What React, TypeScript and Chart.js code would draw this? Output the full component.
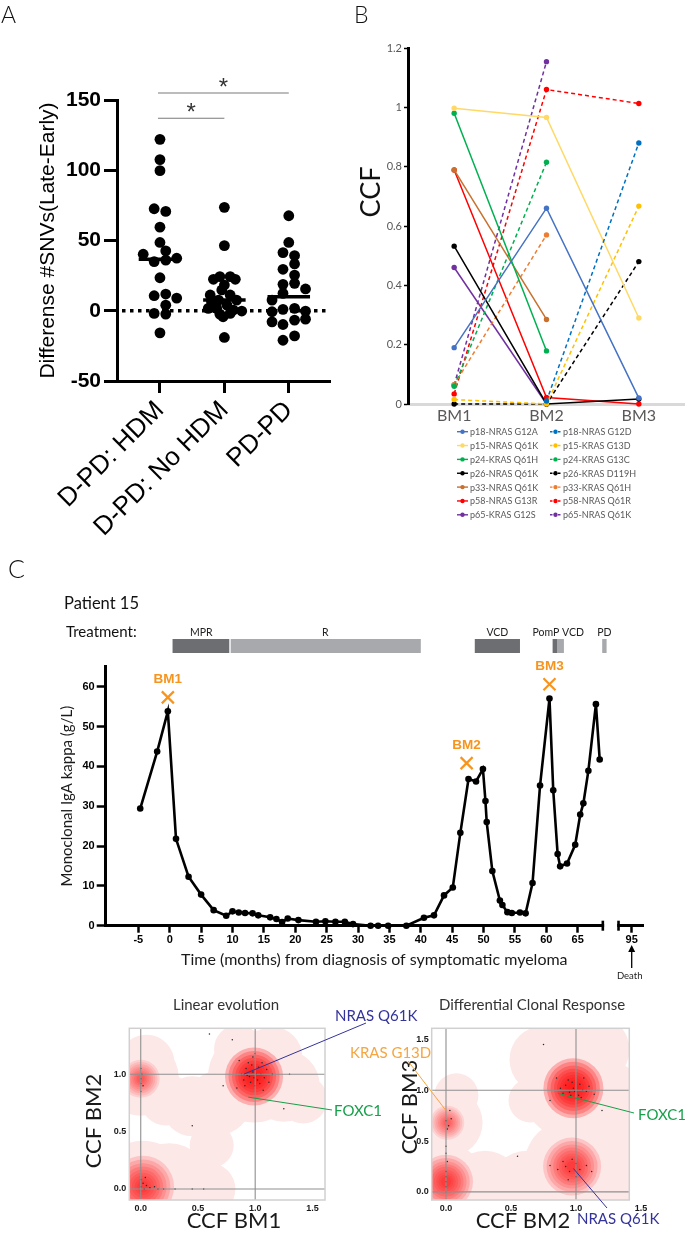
import React, { useEffect, useRef } from "react";
import { Chart, registerables } from "chart.js";
Chart.register(...registerables);

const ARIAL = "'Liberation Sans', Arial, Helvetica, sans-serif";
const HUMAN = "Lato, 'Open Sans', 'Noto Sans', sans-serif";

// ================= Panel A data =================
const groupLabels = ["D-PD: HDM", "D-PD: No HDM", "PD-PD"];
const hdmValues = [122, 107.6, 99.7, 72.6, 70.7, 59.5, 48.6, 42.6, 40.2, 37.4, 36, 35, 23.5, 11.9, 10.7, 9, 4, -1.9, -2.4, -15.7];
const hdmJitter = [0, 0, 0, -0.09, 0.09, 0, 0, 0.09, -0.26, 0.26, 0.09, -0.09, 0, 0.09, -0.09, 0.26, 0.09, -0.09, 0.09, 0];
const noHdmValues = [73.6, 46.4, 24.3, 24.3, 22.4, 22.4, 18.3, 14.8, 11.2, 11.2, 7.6, 7.6, 6.4, 4, 1.7, 1.7, 0.5, -0.2, -1.9, -2.4, -4.3, -19];
const noHdmJitter = [0, 0, -0.07, 0.09, -0.17, 0.17, 0, -0.04, -0.22, 0.09, -0.09, 0.19, -0.2, 0.04, -0.25, -0.12, 0.14, 0.27, 0.09, -0.07, -0.02, 0];
const pdValues = [67.6, 48.6, 41.4, 39.3, 33.3, 29.5, 25.4, 19.5, 18.8, 15.5, 12.4, 7.6, 1.7, 1, -0.3, -0.7, -6, -6.7, -7.9, -9.8, -17.9, -21];
const pdJitter = [0, 0, -0.09, 0.09, 0.09, -0.09, 0.09, 0.09, -0.09, 0.26, -0.09, -0.26, 0.09, -0.09, 0.26, -0.26, 0.26, 0.09, -0.26, -0.09, 0.09, -0.09];
const aYTicks = [-50, 0, 50, 100, 150];
const sigPairs = [[1, 3], [1, 2]];
const sigLevels = [155, 137];
const sigMarks = ["*", "*"];

// ================= Panel B data =================
const bmLabels = ["BM1", "BM2", "BM3"];
const ccfNames = ["p18-NRAS G12A", "p18-NRAS G12D", "p15-NRAS Q61K", "p15-KRAS G13D", "p24-KRAS Q61H", "p24-KRAS G13C", "p26-NRAS Q61K", "p26-KRAS D119H", "p33-NRAS Q61K", "p33-KRAS Q61H", "p58-NRAS G13R", "p58-NRAS Q61R", "p65-KRAS G12S", "p65-NRAS Q61K"];
const ccfBM1 = [0.19, null, 0.997, 0.015, 0.98, 0.06, 0.532, 0.0, 0.789, 0.065, 0.789, 0.034, 0.46, 0.064];
const ccfBM2 = [0.66, 0.01, 0.966, 0.0, 0.179, 0.815, 0.0, 0.0, 0.285, 0.57, 0.022, 1.06, 0.0, 1.154];
const ccfBM3 = [0.02, 0.88, 0.29, 0.667, null, null, 0.017, 0.48, null, null, 0.0, 1.013, null, null];
const ccfColors = ["#4472C4", "#0070C0", "#FFD966", "#FFC000", "#00B050", "#00B050", "#000000", "#000000", "#C8702E", "#ED7D31", "#FF0000", "#FF0000", "#7030A0", "#7030A0"];
const ccfDashed = [false, true, false, true, false, true, false, true, false, true, false, true, false, true];

// ================= Panel C data =================
const months = [-4.7, -2, -0.3, 1, 3, 5, 7, 9, 10, 11, 12, 13.2, 14.1, 16, 17, 17.9, 18.8, 20.5, 23.3, 24.8, 26.4, 27.9, 29.2, 32, 33.2, 34.8, 37.7, 40.5, 42.1, 43.7, 45.1, 46.3, 47.6, 48.8, 49.9, 50.3, 50.5, 51.4, 52.6, 53, 53.8, 54.5, 55.8, 56.7, 57.8, 59, 60.5, 61.1, 61.8, 62.2, 63.3, 64.6, 65.4, 65.9, 66.7, 67.9, 68.5];
const igaKappa = [29.4, 43.7, 53.8, 21.8, 12.3, 7.8, 3.9, 2.5, 3.6, 3.3, 3.2, 3.1, 2.6, 2.1, 1.7, 0.9, 1.8, 1.4, 1.0, 1.1, 1.0, 1.0, 0.4, 0, 0, 0, 0, 2.0, 2.6, 7.6, 9.6, 23.3, 36.8, 36.2, 39.3, 31.3, 26, 13.7, 6.3, 5.2, 3.4, 3.2, 3.3, 3.1, 10.7, 35.2, 57, 34, 18, 14.9, 15.6, 20.3, 27.9, 30.7, 38.9, 55.6, 41.7];
const bmSampleNames = ["BM1", "BM2", "BM3"];
const bmSampleMonth = [-0.3, 47.3, 60.5];
const bmMarkerLevel = [57.3, 40.8, 60.6];
const treatmentNames = ["MPR", "R", "VCD", "PomP", "VCD", "PD"];
const treatmentStart = [0.45, 9.6, 48.6, 61.0, 61.7, 68.9];
const treatmentEnd = [9.6, 40.0, 55.8, 61.7, 62.8, 69.6];
const treatmentDark = [true, false, true, true, false, false];
const treatmentLabelText = ["MPR", "R", "VCD", "PomP VCD", "PD"];
const treatmentLabelBars = [[0], [1], [2], [3, 4], [5]];
const xTickMonths = [-5, 0, 5, 10, 15, 20, 25, 30, 35, 40, 45, 50, 55, 60, 65, 95];
const yTickIga = [0, 10, 20, 30, 40, 50, 60];
const deathMonth = 95;
const axisGap = [69, 71.5];
const shownMonth = (m: number) => (m > 80 ? 73.6 + (m - 95) : m);

// ================= Density panels data =================
const densTicks = [0, 0.5, 1, 1.5];
// Linear evolution (BM1 vs BM2)
const leEnvX = [0.02, 0.25, 0.45, 0.6, 0.0, 0.05, 0.22, 0.45, 0.68, 0.99, 1.25, 1.42, 1.15, 0.62, 0.85];
const leEnvY = [0.02, 0.05, 0.02, 0.0, 0.97, 1.1, 0.78, 0.72, 0.75, 0.98, 0.9, 0.78, 1.15, 0.38, 1.22];
const leEnvR = [46, 40, 36, 26, 38, 28, 26, 30, 32, 46, 36, 24, 30, 22, 24];
const leClX = [0.99, 0.02, 0.0];
const leClY = [0.98, 0.02, 0.96];
const leClR = [29, 31, 19];
const leClA = [0.27, 0.16, 0.11];
const leDots = [[0.92, 1.05], [0.95, 0.98], [0.98, 1.02], [1.02, 0.95], [1.05, 1.0], [0.9, 0.95], [0.97, 1.08], [1.0, 0.9], [1.08, 0.97], [0.94, 1.1], [1.03, 1.06], [0.88, 1.0], [1.1, 1.04], [0.99, 0.97], [1.01, 1.0], [0.96, 0.93], [1.04, 0.92], [0.93, 0.99], [1.06, 1.1], [0.86, 1.12], [1.12, 0.93], [0.98, 1.15], [1.0, 1.18], [0.84, 0.88], [1.15, 1.0], [0.91, 0.9], [1.07, 0.86], [0.0, 0.02], [0.02, 0.05], [0.03, 0.0], [0.05, 0.03], [0.0, 0.08], [0.08, 0.01], [0.12, 0.02], [0.15, 0.0], [0.2, 0.0], [0.04, 0.1], [0.3, 0.0], [0.45, 0.0], [0.55, 0.0], [0.0, 0.92], [0.0, 0.96], [0.01, 1.0], [0.0, 1.05], [0.0, 0.85], [0.02, 0.9], [0.45, 0.55], [0.72, 0.9], [1.3, 1.0], [0.8, 1.3], [1.25, 0.7], [0.6, 1.35]];
// Differential clonal response (BM2 vs BM3)
const dcEnvX = [0.0, 0.3, 0.62, 0.97, 1.25, 1.25, 0.02, 0.08, 0.98, 0.75, 1.15, 1.25, 0.88, 0.65];
const dcEnvY = [0.08, 0.05, 0.05, 0.25, 0.15, 0.55, 0.68, 0.95, 1.02, 1.3, 1.4, 1.0, 1.5, 0.9];
const dcEnvR = [40, 36, 36, 48, 32, 30, 34, 22, 52, 34, 34, 30, 30, 22];
const dcClX = [0.98, 0.97, 0.0, 0.01];
const dcClY = [1.02, 0.25, 0.1, 0.68];
const dcClR = [30, 29, 27, 17];
const dcClA = [0.27, 0.16, 0.16, 0.1];
const dcDots = [[0.92, 1.05], [0.95, 0.98], [0.98, 1.02], [1.02, 0.95], [1.05, 1.0], [0.9, 0.97], [0.97, 1.08], [1.0, 0.92], [1.08, 0.99], [0.94, 1.1], [1.03, 1.06], [0.88, 1.02], [1.1, 1.04], [0.99, 0.99], [0.96, 0.95], [1.04, 0.93], [1.06, 1.12], [0.85, 1.12], [1.14, 0.96], [0.8, 0.9], [0.92, 0.25], [0.95, 0.2], [1.0, 0.28], [1.03, 0.22], [0.9, 0.3], [0.97, 0.32], [1.08, 0.26], [0.86, 0.22], [1.0, 0.15], [0.94, 0.12], [1.12, 0.2], [0.8, 0.26], [0.0, 0.0], [0.0, 0.05], [0.0, 0.1], [0.0, 0.15], [0.0, 0.2], [0.01, 0.3], [0.0, 0.38], [0.0, 0.45], [0.02, 0.65], [0.0, 0.7], [0.04, 0.72], [0.01, 0.62], [0.03, 0.8], [0.55, 0.35], [1.2, 0.8], [0.75, 1.45]];

// ================= helpers =================
const fixW = (w: number) => (s: any) => { s.width = w; s.paddingTop = 0; s.paddingBottom = 0; s.paddingLeft = 0; s.paddingRight = 0; };
const fixH = (h: number) => (s: any) => { s.height = h; s.paddingLeft = 0; s.paddingRight = 0; s.paddingTop = 0; s.paddingBottom = 0; };
const baseOpts = (padding: any) => ({
  responsive: false,
  maintainAspectRatio: false,
  animation: false,
  events: [],
  devicePixelRatio: 1,
  layout: { padding, autoPadding: false },
  plugins: { legend: { display: false }, tooltip: { enabled: false }, title: { display: false } },
});
const setTicks = (vals: number[]) => (s: any) => { s.ticks = vals.map((v) => ({ value: v })); };
const median = (vals: number[]) => {
  const s = [...vals].sort((a, b) => a - b);
  const n = s.length;
  return n % 2 ? s[(n - 1) / 2] : (s[n / 2 - 1] + s[n / 2]) / 2;
};
function txt(ctx: any, text: string, x: number, y: number, font: string, color: string, align = "left", base = "middle", rot = 0) {
  ctx.save();
  ctx.translate(x, y);
  if (rot) ctx.rotate(rot);
  ctx.font = font;
  ctx.fillStyle = color;
  ctx.textAlign = align;
  ctx.textBaseline = base;
  ctx.fillText(text, 0, 0);
  ctx.restore();
}
function line(ctx: any, x1: number, y1: number, x2: number, y2: number, color: string, w: number) {
  ctx.save();
  ctx.strokeStyle = color;
  ctx.lineWidth = w;
  ctx.beginPath();
  ctx.moveTo(x1, y1);
  ctx.lineTo(x2, y2);
  ctx.stroke();
  ctx.restore();
}

// ================= Panel A config =================
const A_W = 345, A_H = 570;
function configA() {
  const groups = [[hdmValues, hdmJitter], [noHdmValues, noHdmJitter], [pdValues, pdJitter]];
  const datasets: any[] = [];
  groups.forEach(([vals, jit], gi) => {
    datasets.push({
      data: (vals as number[]).map((v, i) => ({ x: gi + 1 + (jit as number[])[i], y: v })),
      pointRadius: 5.4, pointBackgroundColor: "#000", pointBorderWidth: 0, showLine: false, clip: false,
    });
    const m = median(vals as number[]);
    datasets.push({
      data: [{ x: gi + 1 - 0.33, y: m }, { x: gi + 1 + 0.33, y: m }],
      showLine: true, borderColor: "#000", borderWidth: 3.5, pointRadius: 0,
    });
  });
  const plugin = {
    id: "panelA",
    beforeDatasetsDraw(chart: any) {
      const { ctx, chartArea, scales } = chart;
      const py = scales.y.getPixelForValue(0);
      ctx.save();
      ctx.strokeStyle = "#000";
      ctx.lineWidth = 3.5;
      ctx.setLineDash([3.5, 4.5]);
      ctx.beginPath();
      ctx.moveTo(chartArea.left + 5, py);
      ctx.lineTo(chartArea.right, py);
      ctx.stroke();
      ctx.restore();
    },
    afterDraw(chart: any) {
      const { ctx, scales } = chart;
      sigPairs.forEach(([a, b], i) => {
        const x1 = scales.x.getPixelForValue(a) - 2, x2 = scales.x.getPixelForValue(b);
        const yy = scales.y.getPixelForValue(sigLevels[i]);
        line(ctx, x1, yy, x2, yy, "#7a7a7a", 1.2);
        txt(ctx, sigMarks[i], (x1 + x2) / 2, yy + 2, `24px ${ARIAL}`, "#333", "center", "alphabetic");
      });
      txt(ctx, "A", 1, 23, `300 23px ${HUMAN}`, "#111", "left", "alphabetic");
    },
  };
  return {
    type: "scatter",
    data: { datasets },
    plugins: [plugin],
    options: {
      ...baseOpts({ top: 100, right: 15, left: 0, bottom: 0 }),
      scales: {
        x: {
          type: "linear", min: 0.333, max: 3.64,
          afterBuildTicks: setTicks([1, 2, 3]),
          afterFit: fixH(A_H - 381),
          ticks: { callback: (v: number) => groupLabels[Math.round(v) - 1], minRotation: 45, maxRotation: 45, autoSkip: false, font: { family: ARIAL, size: 26 }, color: "#000", padding: 2 },
          grid: { drawOnChartArea: false, drawTicks: true, tickLength: 12, tickWidth: 3, tickColor: "#000" },
          border: { color: "#000", width: 3 },
        },
        y: {
          type: "linear", min: -50, max: 150,
          afterBuildTicks: setTicks(aYTicks),
          afterFit: fixW(117),
          ticks: { font: { family: ARIAL, size: 21, weight: "bold" }, color: "#000", padding: 3 },
          grid: { drawOnChartArea: false, tickLength: 13, tickWidth: 3, tickColor: "#000" },
          border: { color: "#000", width: 3 },
          title: { display: true, text: "Differense #SNVs(Late-Early)", font: { family: ARIAL, size: 21 }, color: "#000", padding: { top: 35.4, bottom: 0 } },
        },
      },
    },
  };
}

// ================= Panel B config =================
const B_W = 335, B_H = 540;
function configB() {
  const datasets = ccfNames.map((name, i) => ({
    label: name,
    data: [ccfBM1[i], ccfBM2[i], ccfBM3[i]],
    borderColor: ccfColors[i], backgroundColor: ccfColors[i],
    pointBackgroundColor: ccfColors[i], pointBorderWidth: 0, pointRadius: 2.7,
    borderWidth: 1.5, borderDash: ccfDashed[i] ? [4, 3] : [],
    tension: 0, spanGaps: false, clip: false,
  }));
  const plugin = {
    id: "panelB",
    afterDraw(chart: any) {
      const { ctx } = chart;
      txt(ctx, "B", 4, 23, `300 23px ${HUMAN}`, "#111", "left", "alphabetic");
      txt(ctx, "CCF", 21, 192, `27px ${HUMAN}`, "#111", "center", "middle", -Math.PI / 2);
      ccfNames.forEach((name, i) => {
        const col = i % 2, row = Math.floor(i / 2);
        const x0 = col === 0 ? 107 : 200;
        const y = 431.7 + row * 13.85;
        ctx.save();
        ctx.strokeStyle = ccfColors[i];
        ctx.lineWidth = 1.4;
        ctx.setLineDash(ccfDashed[i] ? [2.5, 1.5] : []);
        ctx.beginPath(); ctx.moveTo(x0, y); ctx.lineTo(x0 + 11, y); ctx.stroke();
        ctx.setLineDash([]);
        ctx.fillStyle = ccfColors[i];
        ctx.beginPath(); ctx.arc(x0 + 5.5, y, 2.2, 0, Math.PI * 2); ctx.fill();
        ctx.restore();
        txt(ctx, name, x0 + 13, y + 0.5, `9px ${HUMAN}`, "#595959", "left", "middle");
      });
    },
  };
  return {
    type: "line",
    data: { labels: bmLabels, datasets },
    plugins: [plugin],
    options: {
      ...baseOpts({ top: 48, right: 0, left: 0, bottom: 0 }),
      scales: {
        x: {
          type: "category", offset: true,
          afterFit: fixH(B_H - 404),
          grid: { display: false, drawTicks: false },
          border: { display: true, color: "#D9D9D9", width: 3 },
          ticks: { font: { family: HUMAN, size: 16 }, color: "#595959", padding: 2 },
        },
        y: {
          min: 0, max: 1.2,
          afterBuildTicks: setTicks([0, 0.2, 0.4, 0.6, 0.8, 1.0, 1.2]),
          afterFit: fixW(58),
          ticks: { callback: (v: number) => String(Math.round(v * 10) / 10), font: { family: HUMAN, size: 11 }, color: "#595959", padding: 2 },
          grid: { drawOnChartArea: false, tickLength: 4, tickWidth: 1.5, tickColor: "#000" },
          border: { color: "#000", width: 3 },
        },
      },
    },
  };
}

// ================= Panel C config =================
const C_W = 685, C_H = 460;
function configC() {
  const xTickShown = xTickMonths.map(shownMonth);
  const plugin = {
    id: "panelC",
    afterDraw(chart: any) {
      const { ctx, scales, chartArea } = chart;
      const X = (m: number) => scales.x.getPixelForValue(m);
      const Y = (v: number) => scales.y.getPixelForValue(v);
      txt(ctx, "C", 8, 38, `300 25px ${HUMAN}`, "#111", "left", "alphabetic");
      txt(ctx, "Patient 15", 64, 64, `16.5px ${HUMAN}`, "#111", "left", "middle");
      txt(ctx, "Treatment:", 66, 92, `15px ${HUMAN}`, "#111", "left", "middle");
      treatmentNames.forEach((n, i) => {
        const x1 = X(treatmentStart[i]), x2 = X(treatmentEnd[i]);
        ctx.fillStyle = treatmentDark[i] ? "#6D6E71" : "#A7A9AC";
        ctx.fillRect(x1, 99, x2 - x1, 14);
      });
      ctx.fillStyle = "#fff";
      ctx.fillRect(X(treatmentEnd[0]) - 0.7, 99, 1.4, 14);
      treatmentLabelText.forEach((t, i) => {
        const bars = treatmentLabelBars[i];
        const c = (X(treatmentStart[bars[0]]) + X(treatmentEnd[bars[bars.length - 1]])) / 2;
        txt(ctx, t, c, 93, `10.5px ${HUMAN}`, "#222", "center", "middle");
      });
      bmSampleNames.forEach((n, i) => {
        txt(ctx, n, X(bmSampleMonth[i]), Y(bmMarkerLevel[i]) - 18, `bold 13.5px ${ARIAL}`, "#F7941D", "center", "middle");
      });
      const b = chartArea.bottom;
      const g1 = X(axisGap[0]), g2 = X(axisGap[1]);
      ctx.fillStyle = "#fff";
      ctx.fillRect(g1 + 1.3, b - 2.5, g2 - g1 - 2.6, 5);
      line(ctx, g1, b - 5, g1, b + 5, "#000", 2.6);
      line(ctx, g2, b - 5, g2, b + 5, "#000", 2.6);
      const dx = X(shownMonth(deathMonth));
      line(ctx, dx, 428, dx, 408, "#000", 1.3);
      ctx.save();
      ctx.fillStyle = "#000";
      ctx.beginPath(); ctx.moveTo(dx, 405); ctx.lineTo(dx - 3.5, 412); ctx.lineTo(dx + 3.5, 412); ctx.closePath(); ctx.fill();
      ctx.restore();
      txt(ctx, "Death", dx - 2, 436, `9.5px ${HUMAN}`, "#222", "center", "middle");
    },
  };
  return {
    type: "line",
    data: {
      datasets: [
        {
          data: months.map((m, i) => ({ x: m, y: igaKappa[i] })),
          borderColor: "#000", borderWidth: 2.6, pointRadius: 3.3, pointBackgroundColor: "#000", pointBorderWidth: 0, tension: 0, clip: false,
        },
        {
          data: bmSampleMonth.map((m, i) => ({ x: m, y: bmMarkerLevel[i] })),
          showLine: false, pointStyle: "crossRot", pointRadius: 8.5, pointBorderColor: "#F7941D", pointBorderWidth: 2.2, pointBackgroundColor: "#F7941D", clip: false,
        },
      ],
    },
    plugins: [plugin],
    options: {
      ...baseOpts({ top: 126.7, right: 42, left: 0, bottom: 0 }),
      scales: {
        x: {
          type: "linear", min: -10.2, max: 75.4,
          afterBuildTicks: setTicks(xTickShown),
          afterFit: fixH(C_H - 385.7),
          ticks: { callback: (v: number) => { const i = xTickShown.findIndex((s) => Math.abs(s - v) < 1e-6); return i >= 0 ? String(xTickMonths[i]) : ""; }, autoSkip: false, maxRotation: 0, minRotation: 0, font: { family: ARIAL, size: 11, weight: "bold" }, color: "#000", padding: 1 },
          grid: { drawOnChartArea: false, tickLength: 7, tickWidth: 2.5, tickColor: "#000" },
          border: { color: "#000", width: 3 },
          title: { display: true, text: "Time (months) from diagnosis of symptomatic myeloma", font: { family: HUMAN, size: 16 }, color: "#1a1a1a", padding: { top: 0, bottom: 30.4 } },
        },
        y: {
          type: "linear", min: 0, max: 65,
          afterBuildTicks: setTicks(yTickIga),
          afterFit: fixW(105.7),
          ticks: { font: { family: ARIAL, size: 11, weight: "bold" }, color: "#000", padding: 2 },
          grid: { drawOnChartArea: false, tickLength: 9, tickWidth: 2.5, tickColor: "#000" },
          border: { color: "#000", width: 3 },
          title: { display: true, text: "Monoclonal IgA kappa (g/L)", font: { family: HUMAN, size: 15 }, color: "#1a1a1a", padding: { top: 58, bottom: 0 } },
        },
      },
    },
  };
}

// ================= Density configs =================
function densityConfig(d: any) {
  const fr = [1, 0.88, 0.76, 0.65, 0.55, 0.45, 0.36, 0.27, 0.19];
  const datasets: any[] = [];
  datasets.push({
    data: d.envX.map((x: number, i: number) => ({ x, y: d.envY[i], r: d.envR[i] })),
    backgroundColor: "#FDE8E8", borderWidth: 0, radius: 0, clip: 0, order: 3,
  });
  d.clX.forEach((cx: number, i: number) => {
    datasets.push({
      data: fr.map((f) => ({ x: cx, y: d.clY[i], r: d.clR[i] * f })),
      backgroundColor: `rgba(255,18,18,${d.clA[i]})`, borderWidth: 0, radius: 0, clip: 0, order: 2,
    });
  });
  datasets.push({
    data: d.dots.map(([x, y]: number[]) => ({ x, y, r: 0.75 })),
    backgroundColor: "#2a2a2a", borderWidth: 0, radius: 0, clip: 0, order: 1,
  });
  const plugin = {
    id: "dens",
    afterDatasetsDraw(chart: any) {
      const { ctx, chartArea: a, scales } = chart;
      [0, 1].forEach((v) => {
        const px = scales.x.getPixelForValue(v);
        line(ctx, px, a.top, px, a.bottom, "#8f8f8f", 1.1);
        const py = scales.y.getPixelForValue(v);
        line(ctx, a.left, py, a.right, py, "#8f8f8f", 1.1);
      });
      ctx.save();
      ctx.strokeStyle = "#d0d0d0";
      ctx.lineWidth = 1.5;
      ctx.strokeRect(a.left, a.top, a.right - a.left, a.bottom - a.top);
      ctx.restore();
    },
    afterDraw(chart: any) {
      const { ctx, scales } = chart;
      txt(ctx, d.title, d.titleX, 10, `15px ${HUMAN}`, "#333", "center", "middle");
      txt(ctx, d.xTitle, d.xTitleX, 226, `22px ${HUMAN}`, "#1a1a1a", "center", "middle");
      txt(ctx, d.yTitle, d.yTitleX, d.yTitleY, `22px ${HUMAN}`, "#1a1a1a", "center", "middle", -Math.PI / 2);
      d.notes.forEach((n: any) => {
        const ax = scales.x.getPixelForValue(n.ax), ay = scales.y.getPixelForValue(n.ay);
        line(ctx, n.lx, n.ly, ax, ay, n.color, 1);
        txt(ctx, n.text, n.tx, n.ty, `15px ${HUMAN}`, n.color, "left", "middle");
      });
    },
  };
  return {
    type: "bubble",
    data: { datasets },
    plugins: [plugin],
    options: {
      ...baseOpts({ top: 33.3, right: d.padRight, left: 0, bottom: 0 }),
      scales: {
        x: {
          type: "linear", min: d.xMin, max: d.xMax,
          afterBuildTicks: setTicks(densTicks),
          afterFit: fixH(33),
          ticks: { callback: (v: number) => v.toFixed(1), font: { family: ARIAL, size: 9, weight: "bold" }, color: "#1a1a1a", padding: 3 },
          grid: { display: false, drawTicks: false },
          border: { display: false },
        },
        y: {
          type: "linear", min: d.yMin, max: d.yMax,
          afterBuildTicks: setTicks(d.yTicks),
          afterFit: fixW(d.yWidth),
          ticks: { callback: (v: number) => v.toFixed(1), font: { family: ARIAL, size: 9, weight: "bold" }, color: "#1a1a1a", padding: 3 },
          grid: { display: false, drawTicks: false },
          border: { display: false },
        },
      },
    },
  };
}

function configLE() {
  return densityConfig({
    envX: leEnvX, envY: leEnvY, envR: leEnvR, clX: leClX, clY: leClY, clR: leClR, clA: leClA, dots: leDots,
    xMin: -0.1, xMax: 1.61, yMin: -0.096, yMax: 1.4, yTicks: [0, 0.5, 1], yWidth: 129.3, padRight: 105,
    title: "Linear evolution", titleX: 226, xTitle: "CCF BM1", xTitleX: 234, yTitle: "CCF BM2", yTitleX: 94, yTitleY: 126,
    notes: [
      { text: "NRAS Q61K", color: "#33339A", tx: 335, ty: 21, lx: 366, ly: 28, ax: 0.9, ay: 1.0 },
      { text: "FOXC1", color: "#16A04A", tx: 334, ty: 116, lx: 332, ly: 115, ax: 0.94, ay: 0.8 },
    ],
  });
}
function configDC() {
  return densityConfig({
    envX: dcEnvX, envY: dcEnvY, envR: dcEnvR, clX: dcClX, clY: dcClY, clR: dcClR, clA: dcClA, dots: dcDots,
    xMin: -0.11, xMax: 1.41, yMin: -0.08, yMax: 1.61, yTicks: [0, 0.5, 1, 1.5], yWidth: 91.7, padRight: 55.7,
    title: "Differential Clonal Response", titleX: 192, xTitle: "CCF BM2", xTitleX: 183, yTitle: "CCF BM3", yTitleX: 70, yTitleY: 112,
    notes: [
      { text: "KRAS G13D", color: "#F7A540", tx: 10, ty: 58, lx: 68, ly: 66, ax: 0.0, ay: 0.8 },
      { text: "FOXC1", color: "#16A04A", tx: 298, ty: 120, lx: 294, ly: 118, ax: 0.86, ay: 0.97 },
      { text: "NRAS Q61K", color: "#33339A", tx: 237, ty: 224, lx: 267, ly: 213, ax: 0.98, ay: 0.23 },
    ],
  });
}

// ================= components =================
function ChartBox({ left, top, width, height, make }: any) {
  const ref = useRef<HTMLCanvasElement | null>(null);
  useEffect(() => {
    if (!ref.current) return;
    const chart = new Chart(ref.current, make());
    return () => chart.destroy();
  }, []);
  return <canvas ref={ref} width={width} height={height} style={{ position: "absolute", left, top, width, height }} />;
}

export default function App() {
  return (
    <div style={{ position: "absolute", left: 0, top: 0, width: 685, height: 1233, background: "#fff", overflow: "hidden" }}>
      <ChartBox left={0} top={0} width={A_W} height={A_H} make={configA} />
      <ChartBox left={350} top={0} width={B_W} height={B_H} make={configB} />
      <ChartBox left={0} top={540} width={C_W} height={C_H} make={configC} />
      <ChartBox left={0} top={995} width={430} height={238} make={configLE} />
      <ChartBox left={340} top={995} width={345} height={238} make={configDC} />
    </div>
  );
}
